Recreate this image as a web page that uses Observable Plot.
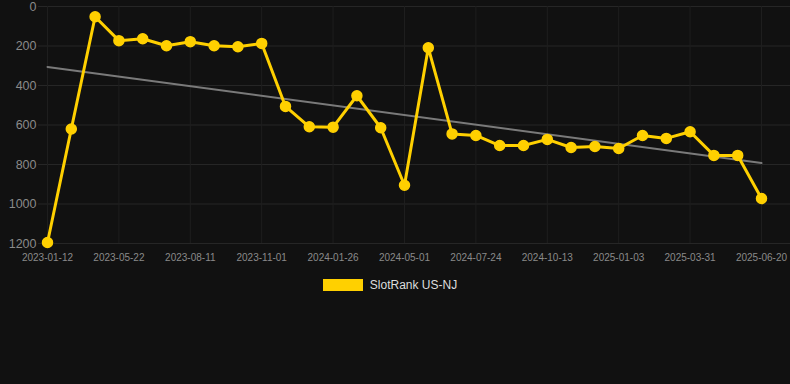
<!DOCTYPE html>
<html>
<head>
<meta charset="utf-8">
<script src="https://cdn.jsdelivr.net/npm/d3@7"></script>
<script src="https://cdn.jsdelivr.net/npm/@observablehq/plot@0.6"></script>
<style>
  html, body { margin: 0; padding: 0; background: #111111; }
  body { width: 790px; height: 384px; overflow: hidden; font-family: "Liberation Sans", Arial, Helvetica, sans-serif; }
  #legend { display: flex; justify-content: center; align-items: center; padding-top: 8px; padding-right: 10px; }
  #legend .sw { width: 40px; height: 12px; background: #FFD000; margin-right: 7px; }
  #legend .lb { color: #dddddd; font-size: 12px; }
</style>
</head>
<body>
<div id="chart"></div>
<div id="legend"><span class="sw"></span><span class="lb">SlotRank US-NJ</span></div>
<script>
const dates = [
  "2023-01-12","2023-02-24","2023-04-08","2023-05-22","2023-06-18","2023-07-15",
  "2023-08-11","2023-09-07","2023-10-04","2023-11-01","2023-11-29","2023-12-28",
  "2024-01-26","2024-02-27","2024-03-30","2024-05-01","2024-05-29","2024-06-26",
  "2024-07-24","2024-08-20","2024-09-16","2024-10-13","2024-11-09","2024-12-06",
  "2025-01-03","2025-01-31","2025-03-02","2025-03-31","2025-04-27","2025-05-24",
  "2025-06-20"
];
const ranks = [
  1195, 620, 52, 173, 163, 199, 178, 199, 204, 187, 506, 609, 611, 452, 614, 905,
  209, 645, 653, 704, 704, 673, 714, 709, 719, 653, 668, 634, 754, 754, 972
];
const tickLabels = ["2023-01-12","2023-05-22","2023-08-11","2023-11-01","2024-01-26",
  "2024-05-01","2024-07-24","2024-10-13","2025-01-03","2025-03-31","2025-06-20"];
const yTicks = [0, 200, 400, 600, 800, 1000, 1200];
const seriesName = "SlotRank US-NJ";

const data = dates.map((d, i) => ({date: d, rank: ranks[i], i}));
const tickIdx = tickLabels.map(t => dates.indexOf(t));

// linear regression trend over point index
const n = ranks.length;
const mx = d3.mean(data, d => d.i), my = d3.mean(ranks);
const slope = d3.sum(data, d => (d.i - mx) * (d.rank - my)) / d3.sum(data, d => (d.i - mx) ** 2);
const icpt = my - slope * mx;
const trend = [
  {i: 0, rank: icpt},
  {i: n - 1, rank: icpt + slope * (n - 1)}
];

const chart = Plot.plot({
  width: 790,
  height: 270,
  marginLeft: 38,
  marginRight: 0,
  marginTop: 6,
  marginBottom: 27,
  style: {background: "#111111", fontFamily: "Liberation Sans, Arial, sans-serif"},
  x: {type: "linear", domain: [0, n - 1], range: [47, 761]},
  y: {domain: [0, 1200], reverse: true},
  marks: [
    Plot.gridY(yTicks, {stroke: "#262626", strokeOpacity: 1}),
    Plot.gridX(tickIdx, {stroke: "#1e1e1e", strokeOpacity: 1}),
    Plot.axisY(yTicks, {tickSize: 0, tickPadding: 2, fill: "#8a8a8a", fontSize: 12.5, label: null, tickFormat: d => String(d)}),
    Plot.axisX(tickIdx, {tickSize: 0, tickPadding: 10, fill: "#8a8a8a", fontSize: 10, label: null, tickFormat: i => dates[i]}),
    Plot.line(trend, {x: "i", y: "rank", stroke: "#7a7a7a", strokeWidth: 2}),
    Plot.line(data, {x: "i", y: "rank", stroke: "#FFD000", strokeWidth: 3}),
    Plot.dot(data, {x: "i", y: "rank", r: 5, fill: "#FFD000", stroke: "#FFD000", title: d => `${seriesName} ${d.date}: ${d.rank}`})
  ]
});
document.getElementById("chart").appendChild(chart);
</script>
</body>
</html>
